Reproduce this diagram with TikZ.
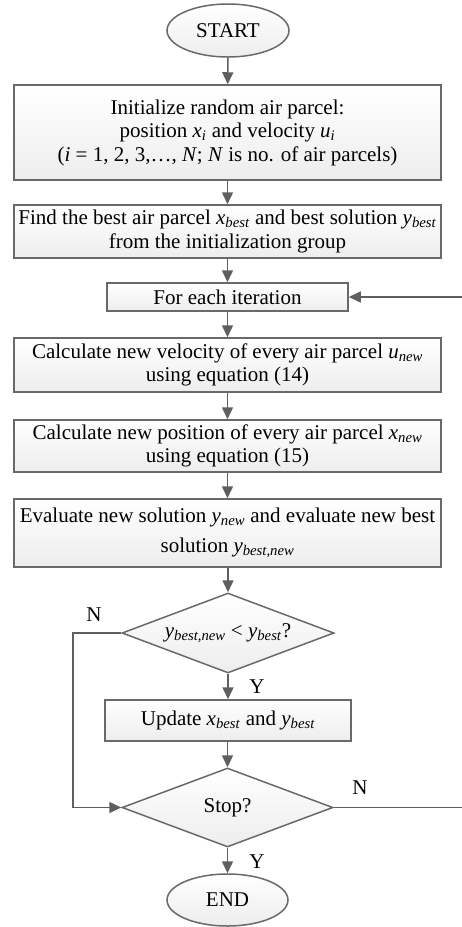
\documentclass[tikz,border=0pt]{standalone}
\usepackage{fontspec}
\setmainfont{Liberation Serif}
\usetikzlibrary{shapes.geometric,arrows.meta}
\definecolor{bordc}{RGB}{105,105,105}
\definecolor{arrc}{RGB}{95,95,95}
\newcommand{\vv}[2]{\textit{#1}\textsubscript{\textit{#2}}}
\begin{document}
\begin{tikzpicture}[x=1pt,y=-1pt,
  font=\fontsize{21}{23.5}\selectfont,
  boxst/.style={draw=bordc,line width=1.5pt,top color=white,bottom color=gray!14,
    rectangle,align=center,inner sep=0pt},
  ellst/.style={draw=bordc,line width=1.5pt,top color=white,bottom color=gray!14,
    ellipse,inner sep=0pt,minimum width=122pt,minimum height=53pt},
  diast/.style={draw=bordc,line width=1.5pt,top color=white,bottom color=gray!14,
    diamond,inner sep=0pt,minimum width=212pt,minimum height=80pt,aspect=2.65},
  conn/.style={draw=arrc,line width=1.5pt,-{Triangle[length=12pt,width=11pt]}},
  lab/.style={inner sep=0pt}]
\useasboundingbox (0,0) rectangle (462,927);
\node[ellst] (start) at (228,30.5) {START};
\node[boxst,minimum width=427pt,minimum height=95pt] (init) at (227.5,132.5)
  {Initialize random air parcel:\\ position \vv{x}{i} and velocity \vv{u}{i}\\
   (\textit{i} = 1, 2, 3,\dots, \textit{N}; \textit{N} is no. of air parcels)};
\node[boxst,minimum width=427pt,minimum height=53pt] (find) at (227.5,231.5)
  {Find the best air parcel \vv{x}{best} and best solution \vv{y}{best}\\ from the initialization group};
\node[boxst,minimum width=241pt,minimum height=28pt] (iter) at (227.5,297) {For each iteration};
\node[boxst,minimum width=427pt,minimum height=54pt] (vel) at (227.5,365)
  {Calculate new velocity of every air parcel \vv{u}{new}\\ using equation (14)};
\node[boxst,minimum width=427pt,minimum height=52pt] (pos) at (227.5,446)
  {Calculate new position of every air parcel \vv{x}{new}\\ using equation (15)};
\node[boxst,minimum width=427pt,minimum height=68pt] (eval) at (227.5,533)
  {Evaluate new solution \vv{y}{new} and evaluate new best\\[6pt] solution \vv{y}{best,new}};
\node[diast] (d1) at (228,633) {\vv{y}{best,new} < \vv{y}{best}?};
\node[boxst,minimum width=246pt,minimum height=41pt] (upd) at (228,720.5)
  {Update \vv{x}{best} and \vv{y}{best}};
\node[diast,minimum width=211pt,minimum height=79pt] (d2) at (227.5,807.5) {Stop?};
\node[ellst,minimum width=121pt,minimum height=52pt] (end) at (227.5,900) {END};
\coordinate (lt) at (73,633);
\coordinate (lb) at (73,807.5);
\coordinate (rb) at (463,807.5);
\coordinate (rt) at (463,297);
\draw[conn] (start) -- (init);
\draw[conn] (init) -- (find);
\draw[conn] (find) -- (iter);
\draw[conn] (iter) -- (vel);
\draw[conn] (vel) -- (pos);
\draw[conn] (pos) -- (eval);
\draw[conn] (eval.south -| d1.north) -- (d1.north);
\draw[conn] (d1.south) -- (upd.north -| d1.south);
\draw[conn] (upd.south -| d2.north) -- (d2.north);
\draw[conn] (d2) -- (end);
\draw[conn] (d1.west) -- (lt) -- (lb) -- (d2.west);
\draw[conn] (d2.east) -- (rb) -- (rt) -- (iter.east);
\node[lab] (n1) at (94,615) {N};
\node[lab] (y1) at (257,687) {Y};
\node[lab] (n2) at (360,788) {N};
\node[lab] (y2) at (257,862) {Y};
\end{tikzpicture}
\end{document}
